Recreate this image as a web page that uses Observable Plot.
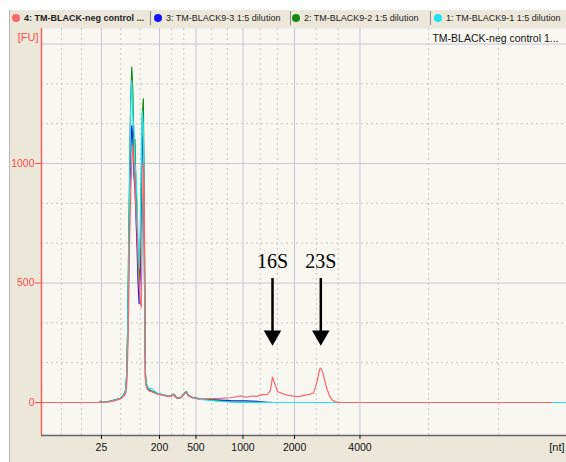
<!DOCTYPE html>
<html><head><meta charset="utf-8">
<script src="https://cdn.jsdelivr.net/npm/d3@7"></script>
<script src="https://cdn.jsdelivr.net/npm/@observablehq/plot@0.6"></script>
<style>
html,body{margin:0;padding:0;background:#fff;overflow:hidden;width:566px;height:462px;}
#frame{position:absolute;left:9px;top:10px;width:557px;height:452px;background:#ebe8da;border-left:1px solid #b5b5b5;}
#tabs{position:absolute;left:0;top:0;width:557px;height:16px;font:9px "Liberation Sans",Arial,sans-serif;color:#222;}
.tab{position:absolute;top:0;height:16px;line-height:16px;white-space:nowrap;}
.dot{display:inline-block;width:8px;height:8px;border-radius:50%;vertical-align:-1px;margin-right:4px;}
.sep{position:absolute;top:1px;width:1px;height:14px;background:#8a8a8a;}
#chart{position:absolute;left:0;top:16px;}
</style></head><body>
<div id="frame"><div id="tabs"></div><div id="chart"></div></div>
<script>
// ---- data ----
const seriesNames = ["4: TM-BLACK-neg control ...", "3: TM-BLACK9-3 1:5 dilution", "2: TM-BLACK9-2 1:5 dilution", "1: TM-BLACK9-1 1:5 dilution"];
const seriesColors = ["#f86868", "#1414ff", "#138a13", "#20e2f0"];
// migration time (s)
const times = [19, 24.5, 24.65, 24.8, 25.5, 26.0, 26.5, 26.8,
  27.0, 27.1, 27.2, 27.3, 27.4, 27.5, 27.6, 27.7, 27.8, 27.9, 28.0, 28.1, 28.2, 28.3, 28.4, 28.5, 28.6, 28.7, 28.8, 28.9, 29.0, 29.1, 29.2,
  29.5, 30.0, 30.5, 31.0, 31.3, 31.6, 31.9, 32.3, 32.6, 32.8, 33.0, 33.4, 34.0, 35.0,
  36.0, 37.0, 38.0, 38.5, 39.0, 39.5, 40.0, 40.5, 40.8, 41.0, 41.2, 41.5, 42.0, 42.5, 43.0, 43.5, 44.0, 44.5, 44.9, 45.2,
  45.5, 45.6, 45.8, 46.1, 46.4, 46.7, 47.0, 47.5, 48.0, 55.0, 67.6, 69];
const negControl = [0,0,4,0,4,8,15,25,
  35,70,180,400,700,887,1000,1075,1000,916,800,720,600,497,420,399,750,1000,800,90,65,55,50,
  45,36,31,27,25,32,18,20,35,42,28,20,17,16,
  17,20,28,22,27,26,33,34,50,106,80,45,36,30,27,25,30,34,40,80,
  140,144,125,70,30,10,3,1,0,0,0,null];
const black9_3 = [0,0,6,0,5,10,17,28,
  40,90,250,550,850,1050,1159,1100,950,900,775,650,497,414,550,850,1100,1120,550,100,70,60,52,
  46,37,32,27,26,34,17,21,37,44,28,20,15,12,
  10,8,7,7,6,5,3,1,1,0,0,0,0,0,0,0,0,0,0,0,
  0,0,0,0,0,0,0,0,0,0,0,0];
const black9_2 = [0,0,4,0,6,11,18,30,
  50,110,300,650,1000,1277,1403,1300,1054,1100,887,803,566,497,620,900,1200,1271,700,120,75,60,55,
  48,38,33,28,27,35,18,22,38,46,30,21,16,12,
  7,4,3,2,2,1,1,0,0,0,0,0,0,0,0,0,0,0,0,0,
  0,0,0,0,0,0,0,0,0,0,0,0];
const black9_1 = [0,0,4,0,5,10,17,28,
  45,100,280,600,950,1250,1347,1194,1150,1000,950,850,650,560,700,1000,1220,1150,600,110,80,70,58,
  58,40,33,28,26,33,17,21,36,44,29,20,14,9,
  5,3,2,2,1,1,1,0,0,0,0,0,0,0,0,0,0,0,0,0,
  0,0,0,0,0,0,0,0,0,0,0,0];
const tickTimes = [24.71, 30.24, 33.71, 38.19, 43.10, 49.33];
const tickLabels = ["25", "200", "500", "1000", "2000", "4000"];
const minorTimes = [20.9, 22.81, 26.55, 28.4, 31.4, 32.55, 35.21, 36.7, 39.83, 41.46, 45.17, 47.26, 55.86, 62.52];
const yTicks = [0, 500, 1000];
const yMajorGrid = [500, 1000, 1500];
const yMinorGrid = [166.7, 333.3, 666.7, 833.3, 1166.7, 1333.3];
const peakLabels = ["16S", "23S"];
const peakTimes = [41.0, 45.6];
const panelTitle = "TM-BLACK-neg control 1...";

// ---- tabs (legend) ----
const tabs = document.getElementById("tabs");
const tabLeft = [2, 144, 282, 424];
const sepLeft = [140, 280, 420];
seriesNames.forEach((n, i) => {
  const d = document.createElement("div");
  d.className = "tab";
  d.style.left = tabLeft[i] + "px";
  if (i === 0) d.style.fontWeight = "bold";
  d.innerHTML = `<span class="dot" style="background:${seriesColors[i]}"></span>`;
  d.appendChild(document.createTextNode(n));
  tabs.appendChild(d);
});
sepLeft.forEach(x => { const s = document.createElement("div"); s.className = "sep"; s.style.left = x + "px"; tabs.appendChild(s); });

// ---- chart ----
const seriesValues = [negControl, black9_3, black9_2, black9_1];
const drawOrder = [1, 2, 3, 0];
const rows = drawOrder.flatMap(k => times.map((t, i) => ({t, v: seriesValues[k][i], s: seriesNames[k]})));
const labelOf = new Map(tickTimes.map((t, i) => [t, tickLabels[i]]));
const peaks = peakLabels.map((l, i) => ({label: l, t: peakTimes[i]}));
const axisRed = "#ff5c5c";

const chart = Plot.plot({
  width: 556, height: 436,
  marginLeft: 31, marginRight: 0, marginTop: 2, marginBottom: 27,
  style: {background: "transparent", fontFamily: "'Liberation Sans', Arial, sans-serif", overflow: "visible"},
  x: {domain: [19, 69]},
  y: {domain: [-138, 1565]},
  color: {domain: seriesNames, range: seriesColors},
  marks: [
    Plot.frame({fill: "#f8f7f2", stroke: "none"}),
    Plot.ruleY(yMinorGrid, {stroke: "#c8c8c8", strokeDasharray: "2,3"}),
    Plot.ruleX(minorTimes, {stroke: "#c8c8c8", strokeDasharray: "2,3"}),
    Plot.ruleY(yMajorGrid, {stroke: "#c6c6d6"}),
    Plot.ruleX(tickTimes, {stroke: "#c6c6d6"}),
    Plot.line(rows, {x: "t", y: "v", z: "s", stroke: "s", strokeWidth: 1.2}),
    Plot.ruleX([19], {stroke: axisRed, strokeWidth: 1.5}),
    Plot.ruleY([-138], {stroke: "#666", strokeWidth: 1.5}),
    Plot.axisY({ticks: yTicks, tickFormat: d => String(d), tickSize: 6, tickPadding: 1, fontSize: 10.5, color: "#ff4a4a", label: null}),
    Plot.axisX({ticks: tickTimes, tickFormat: d => labelOf.get(d), tickSize: 4, tickPadding: 4, fontSize: 10.5, label: null, color: "#111"}),
    Plot.text(["[FU]"], {frameAnchor: "top-left", dx: -3, dy: 5, textAnchor: "end", fill: "#ff4a4a", fontSize: 11}),
    Plot.text([panelTitle], {frameAnchor: "top-right", dx: -8, dy: 6, textAnchor: "end", fill: "#111", fontSize: 10.5}),
    Plot.text(["[nt]"], {frameAnchor: "bottom-right", dx: -2, dy: 15, textAnchor: "end", fill: "#111", fontSize: 11}),
    Plot.ruleX(peaks, {x: "t", y1: 297, y2: 519, stroke: "#000", strokeWidth: 2.5}),
    Plot.dot(peaks, {x: "t", y: 280, symbol: "triangle", r: 6.5, fill: "#000", stroke: "none", rotate: 180}),
    Plot.text(peaks, {x: "t", y: 590, text: "label", fontSize: 20, fontFamily: "'Liberation Serif', 'Times New Roman', serif", fill: "#000"})
  ]
});
document.getElementById("chart").appendChild(chart);
</script>
</body></html>
